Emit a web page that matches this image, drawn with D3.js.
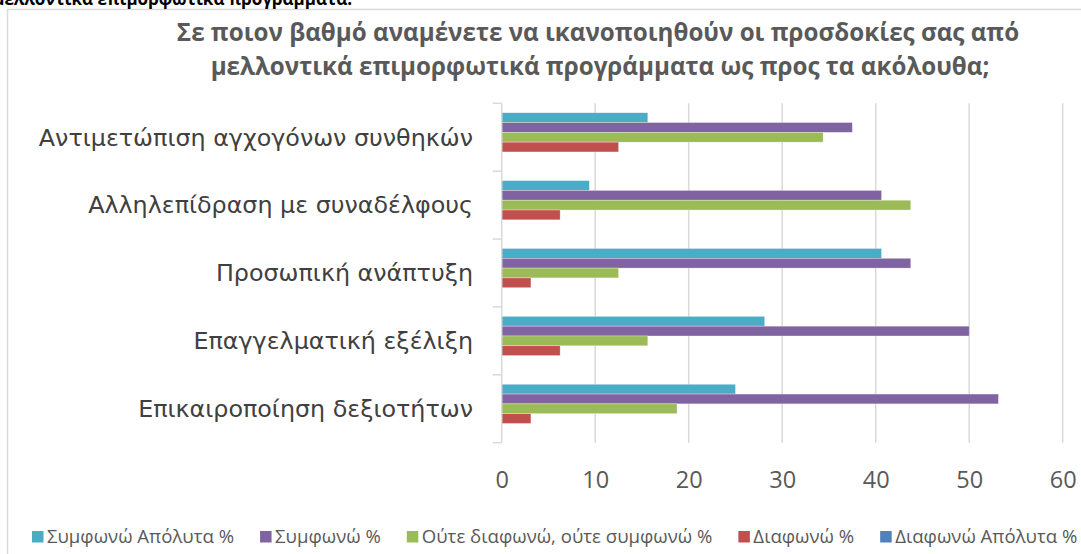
<!DOCTYPE html>
<html>
<head>
<meta charset="utf-8">
<script src="https://cdn.jsdelivr.net/npm/d3@7"></script>
<style>
  body { margin: 0; background: #fff; }
  svg { display: block; }
</style>
</head>
<body>
<div id="chart"></div>
<script>
// chart data (percent of answers)
var categories = [
  "Αντιμετώπιση αγχογόνων συνθηκών",
  "Αλληλεπίδραση με συναδέλφους",
  "Προσωπική ανάπτυξη",
  "Επαγγελματική εξέλιξη",
  "Επικαιροποίηση δεξιοτήτων"
];
var seriesNames = ["Συμφωνώ Απόλυτα %", "Συμφωνώ %", "Ούτε διαφωνώ, ούτε συμφωνώ %", "Διαφωνώ %", "Διαφωνώ Απόλυτα %"];
var agreeFully  = [15.625, 9.375, 40.625, 28.125, 25];
var agree       = [37.5, 40.625, 43.75, 50, 53.125];
var neutral     = [34.375, 43.75, 12.5, 15.625, 18.75];
var disagree    = [12.5, 6.25, 3.125, 6.25, 3.125];
var disagreeFully = [0, 0, 0, 0, 0];
var xTicks = [0, 10, 20, 30, 40, 50, 60];

var seriesValues = [agreeFully, agree, neutral, disagree, disagreeFully];
var colors = ["#4bacc6", "#8064a2", "#9bbb59", "#c0504d", "#4f81bd"];

var W = 1081, H = 554;
var plot = {left: 501.7, right: 1062.7, top: 103.3, bottom: 442.7};

var svg = d3.select("#chart").append("svg")
  .attr("width", W)
  .attr("height", H);

// chart area border (runs off the right / bottom of the crop)
svg.append("rect")
  .attr("x", 7.5).attr("y", 9.5)
  .attr("width", W + 20).attr("height", H + 20)
  .attr("fill", "none")
  .attr("stroke", "#d9d9d9")
  .attr("stroke-width", 1.5);

// bit of the document text above the chart, cut off by the crop
svg.append("text")
  .attr("x", 352).attr("y", 5)
  .attr("text-anchor", "end")
  .style("font-family", "'Open Sans', sans-serif")
  .style("font-weight", "bold")
  .style("font-size", "17px")
  .attr("fill", "#000")
  .text("ως προς τα μελλοντικά επιμορφωτικά προγράμματα.");

// title
var title = svg.append("text")
  .attr("text-anchor", "middle")
  .style("font-family", "'Open Sans', sans-serif")
  .style("font-weight", "bold")
  .style("font-size", "24.2px")
  .attr("fill", "#595959");
title.append("tspan").attr("x", 598).attr("y", 41)
  .text("Σε ποιον βαθμό αναμένετε να ικανοποιηθούν οι προσδοκίες σας από");
title.append("tspan").attr("x", 600).attr("y", 75)
  .text("μελλοντικά επιμορφωτικά προγράμματα ως προς τα ακόλουθα;");

// scales
var x = d3.scaleLinear().domain([0, 60]).range([plot.left, plot.right]);
var y0 = d3.scaleBand().domain(categories).range([plot.top, plot.bottom]);
var gap = y0.bandwidth() * 0.278;
var y1 = d3.scaleBand().domain(d3.range(seriesNames.length))
  .range([gap / 2, y0.bandwidth() - gap / 2]);

// gridlines
svg.append("g")
  .selectAll("line")
  .data(xTicks.slice(1))
  .enter().append("line")
  .attr("x1", function(d) { return x(d); })
  .attr("x2", function(d) { return x(d); })
  .attr("y1", plot.top)
  .attr("y2", plot.bottom)
  .attr("stroke", "#d9d9d9")
  .attr("stroke-width", 1.5);

// bars
var groups = svg.append("g")
  .selectAll("g")
  .data(categories)
  .enter().append("g")
  .attr("transform", function(d) { return "translate(0," + y0(d) + ")"; });

groups.selectAll("rect")
  .data(function(d, i) {
    return seriesValues.map(function(s, k) { return {k: k, v: s[i]}; });
  })
  .enter().append("rect")
  .attr("x", x(0))
  .attr("y", function(d) { return y1(d.k); })
  .attr("width", function(d) { return x(d.v) - x(0); })
  .attr("height", y1.bandwidth())
  .attr("fill", function(d) { return colors[d.k]; })
  .attr("stroke", "#fff")
  .attr("stroke-opacity", 0.5)
  .attr("stroke-width", 0.6);

// category axis
var yAxis = svg.append("g")
  .attr("transform", "translate(" + plot.left + ",0)");
yAxis.append("line")
  .attr("y1", plot.top).attr("y2", plot.bottom)
  .attr("stroke", "#d9d9d9").attr("stroke-width", 1.5);
yAxis.selectAll(".tk")
  .data(categories.map(function(c) { return y0(c); }).concat([plot.bottom]))
  .enter().append("line")
  .attr("class", "tk")
  .attr("x1", -9).attr("x2", 0)
  .attr("y1", function(d) { return d; })
  .attr("y2", function(d) { return d; })
  .attr("stroke", "#d9d9d9").attr("stroke-width", 1.5);

svg.append("g")
  .selectAll("text")
  .data(categories)
  .enter().append("text")
  .attr("x", 473)
  .attr("y", function(d) { return y0(d) + y0.bandwidth() / 2; })
  .attr("dy", "0.35em")
  .attr("text-anchor", "end")
  .style("font-family", "'DejaVu Sans', sans-serif")
  .style("font-size", "23.8px")
  .attr("fill", "#404040")
  .text(function(d) { return d; });

// value axis labels
var xAxis = svg.append("g")
  .attr("transform", "translate(0," + (plot.bottom + 37) + ")")
  .call(d3.axisBottom(x).tickValues(xTicks).tickSize(0).tickPadding(0));
xAxis.select(".domain").remove();
xAxis.selectAll("text")
  .attr("dy", "0.35em")
  .style("font-family", "'Open Sans', sans-serif")
  .style("font-size", "23.5px")
  .attr("fill", "#595959");

// legend
var legend = svg.append("g");
var lx = 0;
seriesNames.forEach(function(name, k) {
  var item = legend.append("g").attr("transform", "translate(" + lx + ",0)");
  item.append("rect")
    .attr("x", 0).attr("y", 531)
    .attr("width", 11.5).attr("height", 11.5)
    .attr("fill", colors[k]);
  var t = item.append("text")
    .attr("x", 15).attr("y", 543)
    .style("font-family", "'Open Sans', sans-serif")
    .style("font-size", "18.6px")
    .attr("fill", "#595959")
    .text(name);
  lx += 15 + t.node().getComputedTextLength() + 26;
});
legend.attr("transform", "translate(" + (32) + ",0)");
</script>
</body>
</html>
